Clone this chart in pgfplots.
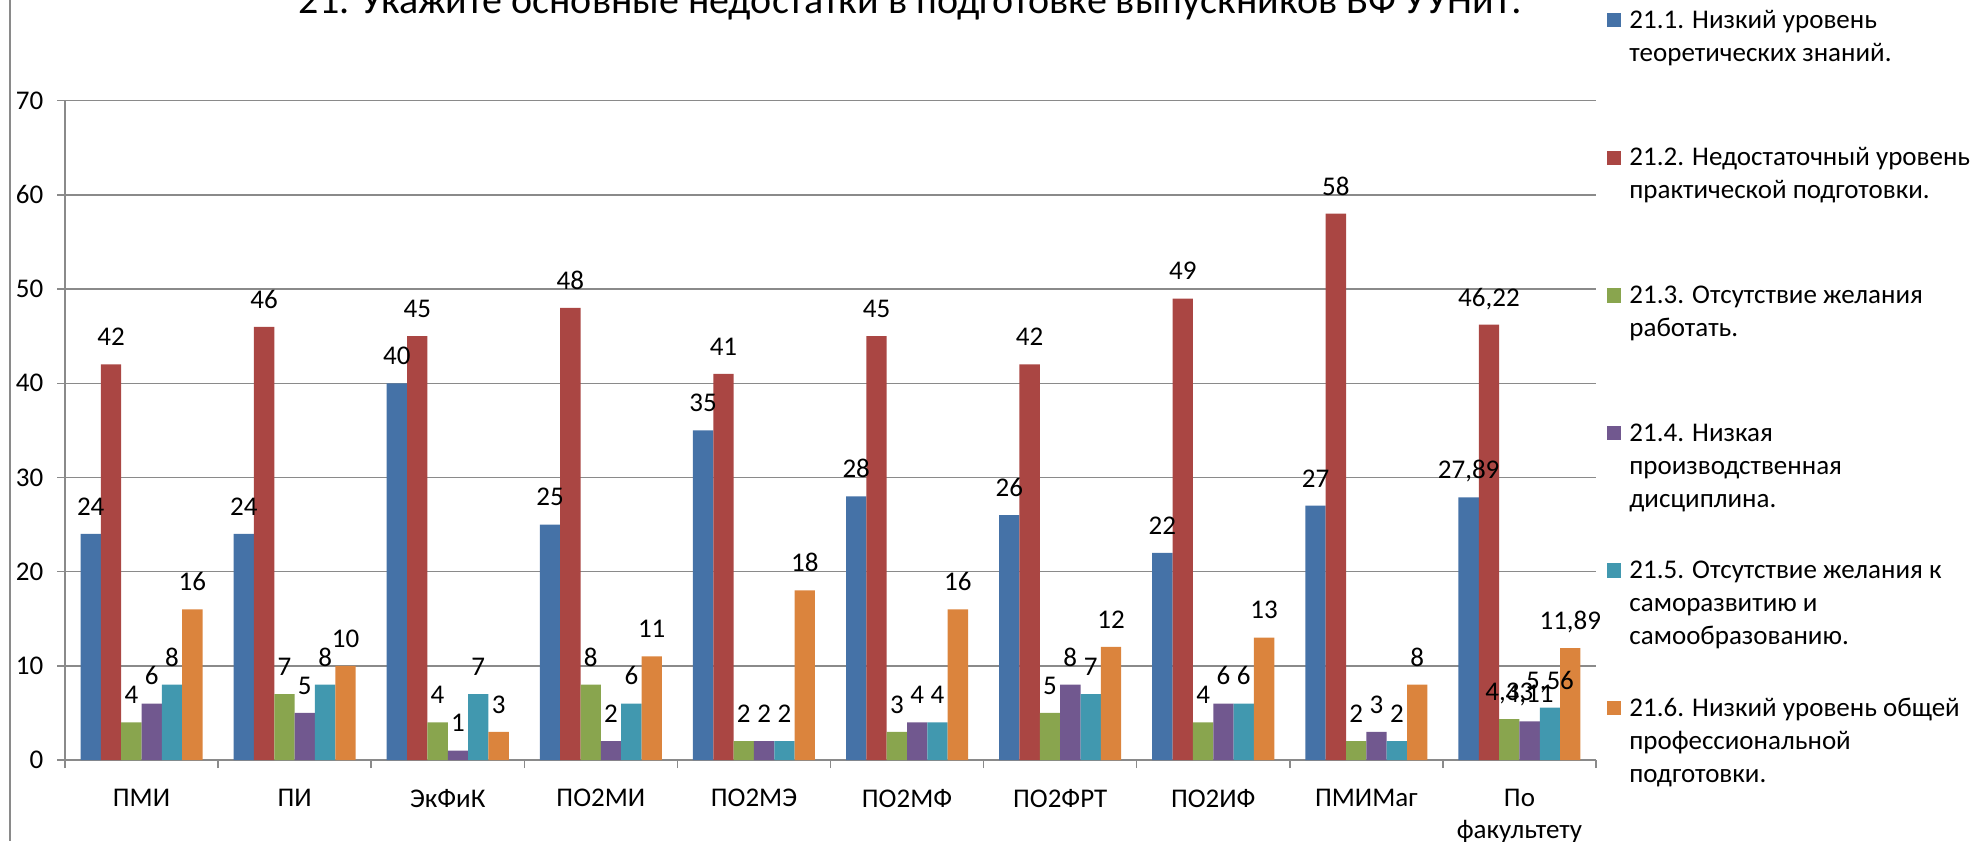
\documentclass[border=0pt]{standalone}
\usepackage{pgfplots}
\pgfplotsset{compat=1.18}
\usepackage{pgfplotstable}
\usepackage{fontspec}
\setmainfont{Carlito}
\definecolor{c1}{HTML}{4572A7}
\definecolor{c2}{HTML}{AA4643}
\definecolor{c3}{HTML}{89A54E}
\definecolor{c4}{HTML}{71588F}
\definecolor{c5}{HTML}{4198AF}
\definecolor{c6}{HTML}{DB843D}
\definecolor{gridgray}{HTML}{8A8A8A}
\pgfplotstableread{
x s1 s2 s3 s4 s5 s6
0 24 42 4 6 8 16
1 24 46 7 5 8 10
2 40 45 4 1 7 3
3 25 48 8 2 6 11
4 35 41 2 2 2 18
5 28 45 3 4 4 16
6 26 42 5 8 7 12
7 22 49 4 6 6 13
8 27 58 2 3 2 8
9 27.89 46.22 4.33 4.11 5.56 11.89
}\data
\begin{document}
\fontsize{13.5}{16.5}\selectfont
\begin{tikzpicture}
\begin{axis}[
  at={(32.5pt,-380pt)}, anchor=south west,
  scale only axis, width=765.5pt, height=329.65pt,
  xmin=-0.5, xmax=9.5, ymin=0, ymax=70,
  ybar=0pt, bar width=10.17pt,
  axis x line=bottom, axis y line=left,
  axis line style={-, draw=gridgray, line width=0.75pt},
  tick align=outside,
  xtick={0,...,9},
  xticklabels={ПМИ, ПИ, ЭкФиК, ПО2МИ, ПО2МЭ, ПО2МФ, ПО2ФРТ, ПО2ИФ, ПМИМаг, {По\\факультету}},
  major x tick style={draw=none},
  minor xtick={-0.5,0.5,...,9.5},
  minor tick length=4pt,
  major tick length=4pt,
  tick style={draw=gridgray, line width=0.75pt},
  ytick={0,10,...,70},
  ymajorgrids, grid style={draw=gridgray, line width=0.75pt},
  yticklabel style={anchor=east, inner sep=0pt, xshift=-6.7pt},
  xticklabel style={anchor=north, inner sep=0pt, yshift=-10.5pt, align=center, font=\fontsize{13.5}{16}\selectfont},
  nodes near coords,
  every node near coord/.append style={anchor=base, inner sep=0pt, yshift=9.3pt, color=black},
  /pgf/number format/.cd, use comma, 1000 sep={}, assume math mode=true,
]
\addplot[fill=c1, draw=none] table[x=x,y=s1]{\data};
\addplot[fill=c2, draw=none] table[x=x,y=s2]{\data};
\addplot[fill=c3, draw=none] table[x=x,y=s3]{\data};
\addplot[fill=c4, draw=none] table[x=x,y=s4]{\data};
\addplot[fill=c5, draw=none] table[x=x,y=s5]{\data};
\addplot[fill=c6, draw=none] table[x=x,y=s6]{\data};
\end{axis}
% chart border
\draw[gridgray, line width=0.75pt] (5pt,0pt) -- (5pt,-420.5pt);
% title
\node[anchor=base, inner sep=0pt, font=\fontsize{20}{24}\selectfont] at (455.25pt,-6.8pt) {21. Укажите основные недостатки в подготовке выпускников ВФ УУНиТ:};
% legend
\fill[c1] (803.5pt,-6.5pt) rectangle ++(7.2pt,-7.2pt);
\node[anchor=base west, inner sep=0pt] at (814.5pt,-14.1pt) {21.1. Низкий уровень};
\node[anchor=base west, inner sep=0pt] at (814.5pt,-30.6pt) {теоретических знаний.};
\fill[c2] (803.5pt,-75.3pt) rectangle ++(7.2pt,-7.2pt);
\node[anchor=base west, inner sep=0pt] at (814.5pt,-82.9pt) {21.2. Недостаточный уровень};
\node[anchor=base west, inner sep=0pt] at (814.5pt,-99.4pt) {практической подготовки.};
\fill[c3] (803.5pt,-144.1pt) rectangle ++(7.2pt,-7.2pt);
\node[anchor=base west, inner sep=0pt] at (814.5pt,-151.7pt) {21.3. Отсутствие желания};
\node[anchor=base west, inner sep=0pt] at (814.5pt,-168.2pt) {работать.};
\fill[c4] (803.5pt,-212.9pt) rectangle ++(7.2pt,-7.2pt);
\node[anchor=base west, inner sep=0pt] at (814.5pt,-220.5pt) {21.4. Низкая};
\node[anchor=base west, inner sep=0pt] at (814.5pt,-237pt) {производственная};
\node[anchor=base west, inner sep=0pt] at (814.5pt,-253.5pt) {дисциплина.};
\fill[c5] (803.5pt,-281.7pt) rectangle ++(7.2pt,-7.2pt);
\node[anchor=base west, inner sep=0pt] at (814.5pt,-289.3pt) {21.5. Отсутствие желания к};
\node[anchor=base west, inner sep=0pt] at (814.5pt,-305.8pt) {саморазвитию и};
\node[anchor=base west, inner sep=0pt] at (814.5pt,-322.3pt) {самообразованию.};
\fill[c6] (803.5pt,-350.4pt) rectangle ++(7.2pt,-7.2pt);
\node[anchor=base west, inner sep=0pt] at (814.5pt,-358pt) {21.6. Низкий уровень общей};
\node[anchor=base west, inner sep=0pt] at (814.5pt,-374.5pt) {профессиональной};
\node[anchor=base west, inner sep=0pt] at (814.5pt,-391pt) {подготовки.};
\pgfresetboundingbox
\path[use as bounding box] (0pt,0pt) rectangle (990.5pt,-420.5pt);
\end{tikzpicture}
\end{document}
